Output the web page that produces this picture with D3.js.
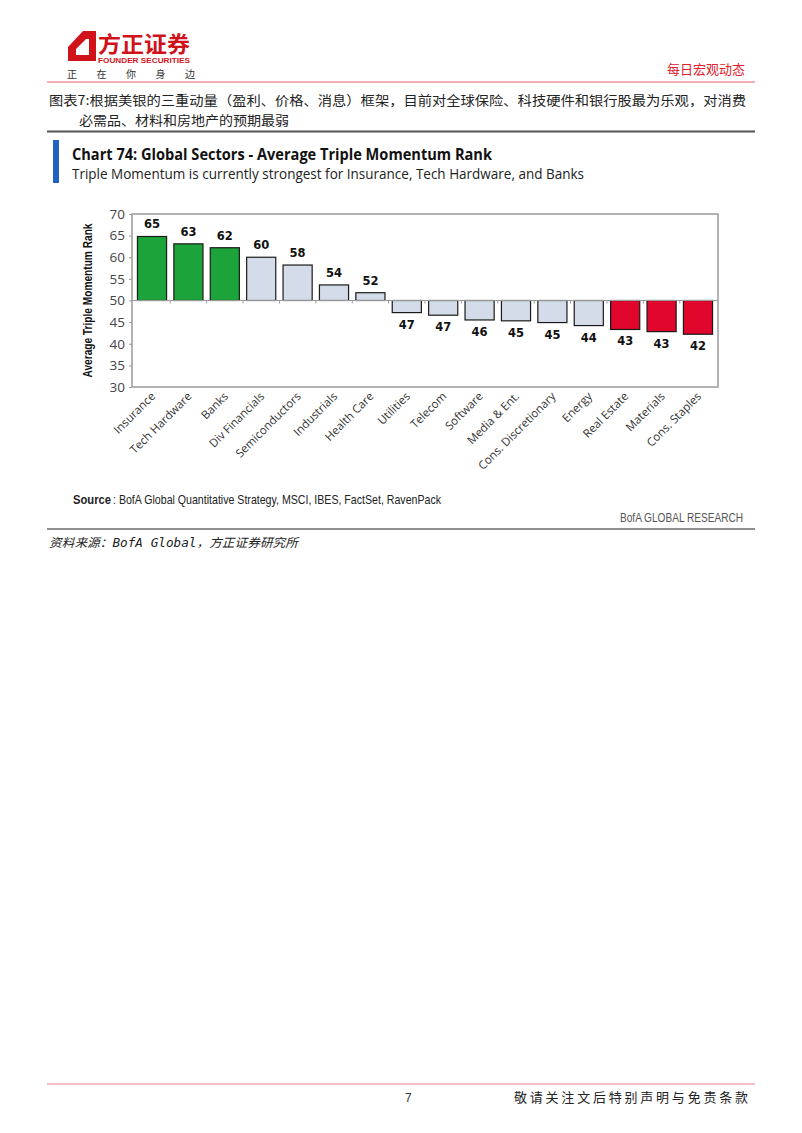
<!DOCTYPE html>
<html><head><meta charset="utf-8">
<script src="https://cdn.jsdelivr.net/npm/d3@7"></script>
<style>body{margin:0;background:#fff}svg{display:block}</style>
</head><body>
<script>
const categories = ["Insurance","Tech Hardware","Banks","Div Financials","Semiconductors","Industrials","Health Care","Utilities","Telecom","Software","Media & Ent.","Cons. Discretionary","Energy","Real Estate","Materials","Cons. Staples"];
const values = [64.8,63.1,62.2,60.0,58.2,53.6,51.8,47.2,46.6,45.5,45.3,44.9,44.2,43.3,42.8,42.2];
const valueLabels = ["65","63","62","60","58","54","52","47","47","46","45","45","44","43","43","42"];
const groups = ["top","top","top","mid","mid","mid","mid","mid","mid","mid","mid","mid","mid","bottom","bottom","bottom"];
const yTicks = [30,35,40,45,50,55,60,65,70];

(function(){
const W=802,H=1133;
const svg=d3.select("body").append("svg").attr("width",W).attr("height",H);
const cjk="'Noto Sans CJK SC','Noto Sans',sans-serif";

// Header
svg.append("path").attr("d","M68,47 L83,31 L96,31 L96,61 L68,61 Z M76,49 L76,55 L89,55 L89,39 L86,39 Z").attr("fill","#d0121b").attr("fill-rule","evenodd");
svg.append("text").attr("x",98).attr("y",52).attr("font-family",cjk).attr("font-weight","bold").attr("font-size",22).attr("fill","#d0121b").attr("textLength",92).attr("lengthAdjust","spacingAndGlyphs").text("方正证券");
svg.append("text").attr("x",98).attr("y",63).attr("font-family","'Liberation Sans',sans-serif").attr("font-weight","bold").attr("font-size",6.5).attr("fill","#d0121b").attr("textLength",92).attr("lengthAdjust","spacingAndGlyphs").text("FOUNDER SECURITIES");
["正","在","你","身","边"].forEach((c,i)=>svg.append("text").attr("x",67+i*29.5).attr("y",78).attr("font-family",cjk).attr("font-size",10).attr("fill","#333").text(c));
svg.append("text").attr("x",745).attr("y",74).attr("text-anchor","end").attr("font-family",cjk).attr("font-size",13).attr("fill","#e0202c").text("每日宏观动态");
svg.append("line").attr("x1",47).attr("x2",755).attr("y1",82).attr("y2",82).attr("stroke","#e4606b").attr("stroke-width",1);

// Caption
svg.append("text").attr("x",49).attr("y",105).attr("font-family",cjk).attr("font-size",13).attr("fill","#222").attr("textLength",697).attr("lengthAdjust","spacingAndGlyphs").text("图表7:根据美银的三重动量（盈利、价格、消息）框架，目前对全球保险、科技硬件和银行股最为乐观，对消费");
svg.append("text").attr("x",79).attr("y",125).attr("font-family",cjk).attr("font-size",13).attr("fill","#222").attr("textLength",210).attr("lengthAdjust","spacingAndGlyphs").text("必需品、材料和房地产的预期最弱");
svg.append("line").attr("x1",47).attr("x2",755).attr("y1",131.5).attr("y2",131.5).attr("stroke","#555").attr("stroke-width",2);

// Chart title block
svg.append("rect").attr("x",53).attr("y",140).attr("width",6).attr("height",43).attr("fill","#2462c2");
svg.append("text").attr("x",72).attr("y",160).attr("font-family","'Open Sans',sans-serif").attr("font-weight","bold").attr("font-size",16).attr("fill","#111").attr("textLength",420).attr("lengthAdjust","spacingAndGlyphs").text("Chart 74: Global Sectors - Average Triple Momentum Rank");
svg.append("text").attr("x",72).attr("y",178.5).attr("font-family","'Open Sans',sans-serif").attr("font-size",14.5).attr("fill","#222").attr("textLength",512).attr("lengthAdjust","spacingAndGlyphs").text("Triple Momentum is currently strongest for Insurance, Tech Hardware, and Banks");

// Plot
const pL=132,pR=718,pT=214,pB=387;
const x=d3.scaleBand().domain(categories).range([pL,pR]).paddingInner(0.2).paddingOuter(0.15);
const y=d3.scaleLinear().domain([30,70]).range([pB,pT]);
const colors={top:"#1ca43a",mid:"#d3dce8",bottom:"#e0062c"};

svg.append("rect").attr("x",pL).attr("y",pT).attr("width",pR-pL).attr("height",pB-pT).attr("fill","#fff").attr("stroke","#9a9a9a").attr("stroke-width",1.5);

const yAxis=d3.axisLeft(y).tickValues(yTicks).tickSize(3).tickPadding(4);
const ya=svg.append("g").attr("transform",`translate(${pL},0)`).call(yAxis);
ya.select(".domain").remove();
ya.selectAll("line").attr("stroke","#999");
ya.selectAll("text").attr("font-family","'Open Sans',sans-serif").attr("font-size",13.5).attr("fill","#444");

svg.append("text").attr("transform",`translate(92,${(pT+pB)/2}) rotate(-90)`).attr("text-anchor","middle")
  .attr("font-family","'Liberation Sans',sans-serif").attr("font-weight","bold").attr("font-size",12).attr("fill","#111")
  .attr("textLength",154).attr("lengthAdjust","spacingAndGlyphs").text("Average Triple Momentum Rank");

const base=y(50);
svg.append("g").selectAll("rect").data(categories).join("rect")
  .attr("x",d=>x(d)).attr("width",x.bandwidth())
  .attr("y",(d,i)=>Math.min(y(values[i]),base))
  .attr("height",(d,i)=>Math.abs(y(values[i])-base))
  .attr("fill",(d,i)=>colors[groups[i]]).attr("stroke","#1a1a1a").attr("stroke-width",1.2);

svg.append("line").attr("x1",pL).attr("x2",pR).attr("y1",base).attr("y2",base).attr("stroke","#999").attr("stroke-width",1);
const step=x.step();
svg.append("g").selectAll("line").data(categories.slice(1)).join("line")
  .attr("x1",d=>x(d)-step*0.1).attr("x2",d=>x(d)-step*0.1).attr("y1",base).attr("y2",base+3).attr("stroke","#999");

svg.append("g").selectAll("text").data(categories).join("text")
  .attr("x",d=>x(d)+x.bandwidth()/2)
  .attr("y",(d,i)=>values[i]>=50? y(values[i])-8 : y(values[i])+16)
  .attr("text-anchor","middle").attr("font-family","'DejaVu Sans',sans-serif").attr("font-weight","bold").attr("font-size",11.5).attr("fill","#111")
  .text((d,i)=>valueLabels[i]);

svg.append("g").selectAll("text").data(categories).join("text")
  .attr("transform",d=>`translate(${x(d)+x.bandwidth()/2+4},${pB+10}) rotate(-45)`)
  .attr("text-anchor","end").attr("font-family","'Open Sans',sans-serif").attr("font-size",11.5).attr("fill","#333")
  .text(d=>d);

// Source
svg.append("text").attr("x",73).attr("y",504).attr("font-family","'Liberation Sans',sans-serif").attr("font-weight","bold").attr("font-size",13).attr("fill","#222")
  .attr("textLength",38).attr("lengthAdjust","spacingAndGlyphs").text("Source");
svg.append("text").attr("x",113).attr("y",504).attr("font-family","'Liberation Sans',sans-serif").attr("font-size",13).attr("fill","#222")
  .attr("textLength",328).attr("lengthAdjust","spacingAndGlyphs").text(": BofA Global Quantitative Strategy, MSCI, IBES, FactSet, RavenPack");
svg.append("text").attr("x",743).attr("y",522).attr("text-anchor","end").attr("font-family","'Liberation Sans',sans-serif").attr("font-size",12.5).attr("fill","#555")
  .attr("textLength",123).attr("lengthAdjust","spacingAndGlyphs").text("BofA GLOBAL RESEARCH");
svg.append("line").attr("x1",47).attr("x2",755).attr("y1",529).attr("y2",529).attr("stroke","#222").attr("stroke-width",1.2);
svg.append("text").attr("x",49).attr("y",547).attr("font-family","'DejaVu Sans Mono',"+cjk).attr("font-style","italic").attr("font-size",12).attr("fill","#222")
  .attr("textLength",249).attr("lengthAdjust","spacingAndGlyphs").text("资料来源：BofA Global，方正证券研究所");

// Footer
svg.append("line").attr("x1",47).attr("x2",755).attr("y1",1084).attr("y2",1084).attr("stroke","#e7808a").attr("stroke-width",1);
svg.append("text").attr("x",405).attr("y",1102).attr("font-family","'Liberation Sans',sans-serif").attr("font-size",12).attr("fill","#333").text("7");
svg.append("text").attr("x",514).attr("y",1102).attr("font-family",cjk).attr("font-size",13).attr("fill","#222").attr("textLength",234).attr("lengthAdjust","spacing").text("敬请关注文后特别声明与免责条款");
})();
</script>
</body></html>
